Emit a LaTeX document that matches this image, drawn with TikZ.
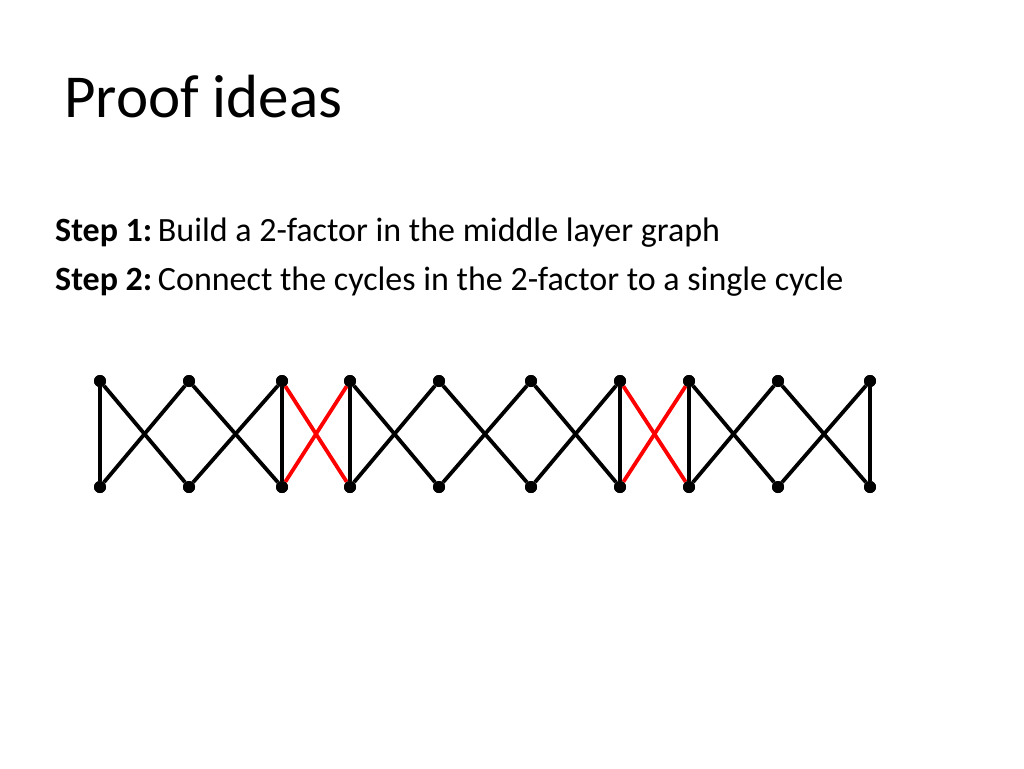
\documentclass[tikz,border=0pt]{standalone}
\usepackage{fontspec}
\setmainfont{Carlito}
\begin{document}
\begin{tikzpicture}[x=1pt,y=-1pt,
  dot/.style={circle,fill=black,inner sep=0pt,minimum size=12pt},
  edge/.style={line width=3.8pt,black},
  redge/.style={line width=3.8pt,red}]
\useasboundingbox (0,0) rectangle (1024,768);
\node[anchor=west,font=\fontsize{61}{70}\selectfont,inner sep=0pt] (title) at (64,97) {Proof ideas};
\node[anchor=west,font=\fontsize{34}{40}\selectfont,inner sep=0pt] (s1) at (55,233) {\textbf{Step 1:}\,Build a 2-factor in the middle layer graph};
\node[anchor=west,font=\fontsize{34}{40}\selectfont,inner sep=0pt] (s2) at (55,282) {\textbf{Step 2:}\,Connect the cycles in the 2-factor to a single cycle};
\foreach \i/\x in {1/100,2/189,3/282,4/350,5/439,6/531,7/620,8/689,9/778,10/870}{
  \node[dot] (t\i) at (\x,381) {};
  \node[dot] (b\i) at (\x,487) {};
}
\foreach \i in {1,3,4,7,8,10} \draw[edge] (t\i) -- (b\i);
\foreach \i/\j in {1/2,2/3,4/5,5/6,6/7,8/9,9/10}{
  \draw[edge] (t\i) -- (b\j);
  \draw[edge] (b\i) -- (t\j);
}
\foreach \i/\j in {3/4,7/8}{
  \draw[redge] (t\i) -- (b\j);
  \draw[redge] (b\i) -- (t\j);
}
\foreach \i in {1,...,10}{\node[dot] at (t\i) {}; \node[dot] at (b\i) {};}
\end{tikzpicture}
\end{document}
